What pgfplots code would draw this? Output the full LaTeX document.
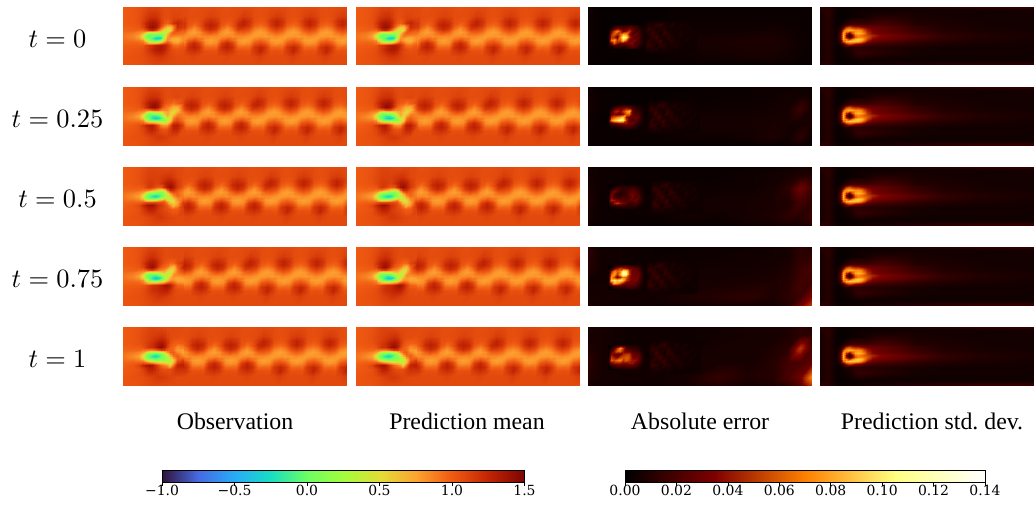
\documentclass[border=0pt]{standalone}
\usepackage[no-math]{fontspec}
\setmainfont{Liberation Serif}
\newfontfamily\dvs{DejaVu Serif}
\usepackage{pgfplots}
\pgfplotsset{compat=1.18}
\pgfplotsset{
 colormap={turbo}{rgb255=(48,18,59) rgb255=(70,107,227) rgb255=(40,171,248) rgb255=(24,222,194) rgb255=(109,254,98) rgb255=(164,252,60) rgb255=(225,221,55) rgb255=(254,163,49) rgb255=(239,89,17) rgb255=(194,36,3) rgb255=(122,4,3)},
 colormap={afm}{rgb255=(0,0,0) rgb255=(128,0,0) rgb255=(255,128,0) rgb255=(255,255,128) rgb255=(255,255,255)},
 panel/.style={scale only axis,anchor=north west,height=58bp,ymin=0,ymax=58,y dir=reverse,hide axis,view={0}{90}},
}
\ExplSyntaxOn
\seq_new:N \l_g_seq
\tl_new:N \l_g_tl
\tl_new:N \l_v_tl
\clist_new:N \l_gx_clist
\clist_new:N \l_gy_clist
\NewDocumentCommand\Surf{O{0} m m m}{
  \exp_args:NNx \seq_set_from_clist:Nn \l_g_seq {#4}
  \clist_set:Nx \l_gx_clist {#2}
  \clist_set:Nx \l_gy_clist {#3}
  \tl_clear:N \l_g_tl
  \clist_map_inline:Nn \l_gy_clist {
    \clist_map_inline:Nn \l_gx_clist {
      \seq_pop_left:NN \l_g_seq \l_v_tl
      \tl_put_right:Nx \l_g_tl {(\fp_eval:n{####1+#1},##1,\fp_eval:n{\l_v_tl})}
    }
  }
  \use:x { \exp_not:N \addplot3 [surf,shader=interp,mesh/cols=\clist_count:N \l_gx_clist,mesh/rows=\clist_count:N \l_gy_clist] coordinates {\l_g_tl}; }
}
\NewDocumentCommand\SurfC{O{0} m m m}{
  \exp_args:NNx \seq_set_from_clist:Nn \l_g_seq {#4}
  \clist_set:Nx \l_gx_clist {#2}
  \clist_set:Nx \l_gy_clist {#3}
  \tl_clear:N \l_g_tl
  \clist_map_inline:Nn \l_gx_clist {
    \clist_map_inline:Nn \l_gy_clist {
      \seq_pop_left:NN \l_g_seq \l_v_tl
      \tl_put_right:Nx \l_g_tl {(\fp_eval:n{##1+#1},####1,\fp_eval:n{\l_v_tl})}
    }
  }
  \use:x { \exp_not:N \addplot3 [surf,shader=interp,mesh/ordering=y~varies,mesh/cols=\clist_count:N \l_gx_clist,mesh/rows=\clist_count:N \l_gy_clist] coordinates {\l_g_tl}; }
}
\ExplSyntaxOff
% ---------- vortex street (observation / prediction): columns across the wake
\def\SX{21,26.5,32,37.5,43,48.5,54,59.5,65,70.5,76,81.5,87,92.5,98,103.5,109,114.5,120,125.5,131,136.5,142,147.5,153,158.5,164,169.5,175,180.5,186,191.5,197,202.5,208,213.5,219,224.5,230}
\def\SY{0,9,14,18,22,25,29,33,36,40,44,49,58}
\def\Lo{1.07,1.11,1.22,1.28,1.22,1.06,.84,.76,.80,.95,1.05,1.08,1.07}
\def\La{1.07,1.09,1.17,1.22,1.14,.98,.84,.80,.84,.96,1.05,1.07,1.07}
\def\Lb{1.06,1.06,1.05,1.03,.92,.82,.82,.96,1.12,1.20,1.15,1.08,1.07}
\def\Lc{1.05,1.06,1.03,.94,.80,.76,.84,1.06,1.24,1.28,1.20,1.10,1.07}
\def\Ro{1.07,1.14,1.26,1.26,1.12,1.0,.84,.76,.80,.96,1.05,1.07,1.07}
\def\Ra{1.07,1.11,1.19,1.17,1.05,.93,.80,.78,.84,.96,1.04,1.07,1.07}
\def\Rb{1.06,1.06,1.05,1.0,.88,.80,.78,.90,1.02,1.16,1.15,1.09,1.07}
\def\Rc{1.05,1.05,1.02,.95,.82,.76,.80,.96,1.08,1.25,1.26,1.13,1.07}
\def\SV{\Lo,\La,\Lb,\Lc,\Lb,\La,\Lo,\La,\Lb,\Lc,\Lb,\La,\Lo,\La,\Lb,\Lc,\Lb,\La,\Ro,\Ra,\Rb,\Rc,\Rb,\Ra,\Ro,\Ra,\Rb,\Rc,\Rb,\Ra,\Ro,\Ra,\Rb,\Rc,\Rb,\Ra,\Ro,\Ra,\Rb}
% ---------- cylinder region, one table per time
\def\HX{0,10,16,20,23,26,29,32,35,38,41,44,47,50,54,60}
\def\HY{0,10,16,20,23,25,27,29,31,33,35,38,42,50,58}
\def\HT{1.00,1.02,1.04,1.06,1.08,1.10,1.10,1.10,1.09,1.08,1.07,1.06,1.07,1.08,1.07,1.07,}
\def\HB{1.02,1.04,1.05,1.06,1.08,1.1,1.12,1.14,1.16,1.16,1.14,1.12,1.1,1.09,1.08,1.07,
1.02,1.03,1.04,1.05,1.06,1.07,1.08,1.08,1.08,1.08,1.08,1.08,1.08,1.08,1.07,1.07}
\def\HVa{\HT
1.00,1.02,1.05,1.10,1.15,1.18,1.20,1.20,1.16,1.10,1.06,1.06,1.08,1.10,1.10,1.08,
1.00,1.02,1.05,1.15,1.25,1.32,1.35,1.33,1.25,1.12,1.02,.98,1.05,1.18,1.25,1.16,
.98,1.0,1.02,1.10,1.25,1.36,1.40,1.36,1.22,1.0,.80,.62,.60,.85,1.20,1.14,
.96,.98,.95,.95,1.05,1.20,1.25,1.15,.95,.72,.50,.40,.50,.90,1.10,1.01,
.94,.92,.85,.8,.6,.45,.50,.50,.45,.40,.35,.50,.80,1.0,.99,.95,
.92,.88,.8,.55,.2,.05,.03,.05,.05,.10,.30,.65,.90,.95,.93,.90,
.92,.86,.75,.4,.06,0,0,-.05,-.1,-.05,.30,.75,.88,.85,.82,.84,
.92,.88,.8,.55,.12,.02,-.1,-.3,-.35,-.2,.45,.80,.80,.72,.72,.83,
.94,.92,.88,.8,.4,.15,.05,-.05,0,.15,.60,.85,.78,.70,.68,.84,
.96,.96,.95,.9,.75,.50,.40,.38,.42,.60,.85,1.0,.90,.78,.75,.90,
.98,1.0,1.0,1.02,1.1,1.15,1.2,1.25,1.3,1.32,1.28,1.2,1.08,.95,.92,1.0,
1.0,1.02,1.04,1.06,1.12,1.18,1.24,1.30,1.33,1.33,1.28,1.18,1.1,1.05,1.03,1.05,
\HB}
\def\HVb{\HT
1.00,1.02,1.05,1.10,1.15,1.18,1.20,1.20,1.18,1.12,1.08,1.06,1.06,1.08,1.09,1.07,
1.00,1.02,1.05,1.15,1.25,1.32,1.36,1.38,1.32,1.18,1.05,1.0,.98,.92,.98,1.08,
.98,1.0,1.02,1.10,1.22,1.34,1.42,1.42,1.32,1.12,.95,.88,.80,.70,.70,1.04,
.96,.98,.95,.92,.88,.90,1.0,1.05,.98,.85,.85,.82,.70,.55,.60,.98,
.94,.92,.85,.8,.55,.25,.30,.40,.45,.50,.65,.75,.60,.50,.72,.89,
.92,.88,.8,.55,.2,0,.02,.08,.12,.25,.55,.75,.55,.60,.85,.87,
.92,.84,.75,.4,.06,-.02,-.15,-.2,-.1,.05,.40,.65,.50,.75,.92,.86,
.92,.86,.8,.55,.12,-.02,-.2,-.35,-.3,-.1,.15,.45,.50,.88,1.0,.88,
.94,.90,.88,.8,.4,.1,.05,0,.05,0.05,.1,.35,.55,.95,1.05,.90,
.96,.96,.97,.92,.78,.65,.6,.58,.5,.4,.4,.45,.75,1.1,1.15,.98,
.98,1.0,1.05,1.15,1.25,1.3,1.32,1.2,1.05,.85,.8,.82,1.05,1.28,1.3,1.09,
1.0,1.02,1.05,1.10,1.18,1.25,1.28,1.22,1.12,1.05,1.02,1.05,1.15,1.25,1.25,1.06,
\HB}
\def\HVc{\HT
1.00,1.02,1.05,1.08,1.10,1.12,1.12,1.12,1.12,1.14,1.16,1.18,1.18,1.14,1.09,1.06,
1.00,1.02,1.04,1.08,1.12,1.15,1.15,1.12,1.12,1.18,1.25,1.32,1.33,1.28,1.15,1.04,
.98,1.0,1.0,1.02,1.10,1.15,1.12,1.05,1.0,1.02,1.2,1.36,1.42,1.32,1.15,1.0,
.96,.96,.95,.9,.88,.85,.75,.65,.50,.40,.55,.95,1.22,1.2,1.05,.90,
.94,.90,.85,.78,.55,.28,.25,.2,.12,.1,.25,.65,.95,1.05,1.0,.85,
.92,.85,.8,.55,.2,.02,0,-.05,-.05,.03,.15,.4,.7,.92,.98,.86,
.92,.83,.75,.4,.06,-.05,-.2,-.3,-.2,.02,.18,.35,.55,.8,.95,.88,
.92,.86,.8,.55,.12,.02,-.02,-.05,.03,.2,.4,.35,.4,.65,.85,.92,
.94,.92,.88,.8,.55,.42,.42,.5,.6,.75,.85,.55,.35,.5,.8,1.0,
.96,.98,.98,1.02,1.05,1.05,1.05,1.05,1.05,1.05,1.02,.85,.55,.5,.72,1.12,
.98,1.02,1.08,1.22,1.32,1.38,1.38,1.3,1.2,1.15,1.08,1.0,.85,.65,.8,1.16,
1.0,1.02,1.05,1.15,1.22,1.28,1.28,1.24,1.16,1.12,1.08,1.06,1.02,.98,1.0,1.12,
\HB}
\def\HVd{\HT
1.0,1.02,1.05,1.10,1.15,1.18,1.20,1.18,1.14,1.10,1.07,1.06,1.06,1.07,1.08,1.08,
1.0,1.02,1.05,1.15,1.25,1.32,1.35,1.30,1.2,1.1,1.03,1.0,.95,.95,1.08,1.2,
.98,1.0,1.02,1.1,1.25,1.36,1.4,1.3,1.12,1.0,.95,.88,.7,.62,.95,1.25,
.96,.98,.95,.92,.98,1.08,1.1,1.0,.9,.85,.8,.62,.48,.55,.9,1.12,
.94,.92,.85,.8,.55,.4,.45,.45,.5,.6,.65,.42,.4,.65,.9,1.03,
.92,.88,.8,.55,.2,.03,.02,.05,.1,.25,.5,.35,.45,.8,.85,.92,
.92,.85,.75,.4,.06,-.02,-.1,-.2,-.1,0,.3,.3,.6,.82,.8,.83,
.92,.87,.8,.55,.12,0,-.2,-.4,-.35,-.1,.2,.42,.72,.78,.72,.76,
.94,.92,.88,.8,.4,.08,0,-.05,.02,.15,.4,.6,.82,.82,.74,.74,
.96,.96,.95,.88,.72,.55,.5,.5,.55,.62,.72,.92,1.0,.95,.82,.79,
.98,1.0,1.0,1.02,1.05,1.12,1.18,1.2,1.22,1.28,1.35,1.38,1.3,1.15,.98,.95,
1.0,1.02,1.04,1.06,1.1,1.15,1.2,1.22,1.24,1.28,1.3,1.3,1.22,1.12,1.05,1.04,
\HB}
\def\HVe{\HT
1.0,1.02,1.05,1.08,1.1,1.12,1.14,1.16,1.18,1.2,1.18,1.12,1.08,1.06,1.06,1.05,
1.0,1.02,1.04,1.08,1.12,1.16,1.2,1.26,1.32,1.35,1.3,1.18,1.05,1.0,.98,1.0,
.98,1.0,1.0,1.04,1.12,1.18,1.2,1.28,1.38,1.42,1.32,1.12,1.0,.95,.82,.88,
.96,.96,.95,.9,.88,.85,.85,.9,1.0,1.1,1.1,1.0,.98,.95,.78,.76,
.94,.9,.85,.78,.55,.3,.25,.22,.25,.35,.55,.8,.98,1.0,.85,.74,
.92,.86,.8,.55,.2,0,-.02,-.1,-.05,.02,.15,.5,.85,.98,.95,.79,
.92,.83,.75,.4,.06,-.05,-.2,-.3,-.2,0,.12,.35,.65,.9,1.0,.86,
.92,.86,.8,.55,.12,.02,-.03,-.1,-.02,.05,.12,.25,.45,.75,.98,.98,
.94,.92,.88,.8,.55,.3,.2,.15,.15,.15,.2,.25,.3,.6,1.0,1.12,
.96,.98,.98,.98,.9,.8,.72,.62,.55,.5,.5,.42,.32,.65,1.1,1.2,
.98,1.02,1.1,1.25,1.33,1.38,1.35,1.22,1.08,.95,.88,.8,.6,.9,1.25,1.28,
1.0,1.02,1.05,1.12,1.2,1.28,1.28,1.22,1.14,1.08,1.05,1.05,1.05,1.12,1.2,1.2,
\HB}
% ---------- absolute error
\def\BX{0,12,40,70,100,130,160,185,200,212,223}
\def\BY{0,8,21,35,50,58}
\def\EBa{.004,.002,.002,.002,.003,.003,.003,.003,.003,.003,.003,
.004,.002,.002,.002,.003,.003,.003,.003,.003,.003,.003,
.004,.002,.002,.003,.004,.004,.004,.005,.004,.003,.003,
.004,.002,.003,.004,.006,.007,.008,.008,.006,.004,.003,
.003,.002,.002,.003,.004,.005,.006,.006,.005,.003,.003,
.002,.002,.002,.002,.002,.002,.002,.003,.003,.003,.003}
\def\EBb{.004,.002,.002,.002,.002,.003,.003,.004,.004,.004,.004,
.005,.003,.002,.002,.003,.003,.003,.004,.005,.005,.004,
.006,.003,.002,.003,.003,.004,.004,.005,.006,.016,.006,
.004,.002,.003,.004,.006,.006,.006,.007,.006,.006,.006,
.003,.003,.003,.003,.004,.004,.005,.008,.005,.012,.004,
.003,.002,.002,.002,.002,.002,.002,.003,.003,.005,.004}
\def\EBc{.004,.004,.003,.003,.003,.003,.003,.004,.005,.006,.006,
.005,.004,.003,.003,.003,.003,.004,.005,.006,.008,.008,
.006,.004,.003,.003,.003,.004,.004,.006,.012,.03,.018,
.008,.003,.003,.004,.005,.006,.006,.007,.008,.018,.012,
.006,.004,.003,.003,.005,.004,.006,.008,.012,.01,.016,
.004,.003,.003,.002,.003,.003,.004,.005,.006,.008,.01}
\def\EBd{.01,.004,.004,.003,.003,.004,.004,.005,.006,.012,.01,
.012,.005,.004,.003,.004,.004,.005,.005,.006,.012,.012,
.01,.005,.004,.004,.005,.005,.005,.006,.008,.015,.018,
.005,.005,.004,.005,.006,.006,.007,.008,.01,.018,.016,
.006,.006,.005,.005,.008,.01,.012,.008,.012,.016,.035,
.006,.005,.005,.004,.005,.006,.006,.006,.01,.03,.05}
\def\EBe{.006,.006,.004,.004,.004,.005,.006,.006,.008,.012,.01,
.006,.006,.004,.004,.004,.005,.006,.006,.008,.012,.012,
.008,.006,.004,.004,.004,.006,.006,.008,.012,.05,.02,
.012,.006,.004,.005,.006,.006,.006,.01,.018,.02,.025,
.01,.006,.005,.005,.006,.014,.008,.01,.02,.03,.07,
.006,.005,.004,.004,.006,.01,.006,.008,.012,.025,.05}
\def\MX{56,60,64,68,72,76,80,84,88,92,96,100,104,108}
\def\MY{14,18,22,26,30,34,38,42,46}
\def\MV{.004,.004,.004,.005,.005,.006,.005,.004,.004,.004,.004,.004,.004,.004,
.004,.009,.006,.012,.014,.006,.005,.009,.004,.006,.005,.004,.004,.004,
.004,.014,.012,.006,.008,.012,.006,.005,.007,.005,.004,.006,.004,.004,
.004,.008,.016,.01,.005,.014,.01,.005,.004,.008,.006,.004,.005,.004,
.004,.006,.012,.017,.008,.006,.012,.009,.005,.006,.004,.006,.004,.004,
.004,.013,.007,.01,.016,.006,.007,.01,.007,.004,.006,.005,.004,.004,
.004,.015,.012,.005,.012,.01,.005,.006,.008,.006,.004,.004,.005,.004,
.004,.007,.009,.008,.005,.007,.006,.004,.005,.004,.004,.004,.004,.004,
.004,.004,.004,.004,.004,.004,.004,.004,.004,.004,.004,.004,.004,.004}
\def\EX{20,23,26,29,32,35,38,41,44,47,50,53,56}
\def\EY{18,21,24,27,30,33,36,39,42}
\def\EVa{.002,.002,.004,.008,.01,.01,.01,.012,.012,.01,.006,.004,.004,
.002,.006,.02,.03,.025,.02,.025,.03,.025,.02,.012,.006,.004,
.002,.03,.055,.07,.05,.03,.04,.05,.03,.015,.02,.01,.004,
.002,.045,.06,.045,.06,.08,.075,.04,.02,.03,.02,.012,.004,
.002,.05,.045,.03,.07,.11,.10,.05,.03,.02,.025,.01,.004,
.002,.065,.08,.05,.06,.09,.06,.03,.03,.03,.02,.012,.004,
.002,.03,.06,.04,.03,.03,.03,.035,.035,.02,.02,.01,.004,
.002,.006,.012,.012,.015,.012,.015,.02,.025,.02,.012,.006,.004,
.002,.002,.003,.005,.005,.005,.006,.008,.01,.008,.005,.004,.004}
\def\EVb{.002,.002,.004,.006,.01,.012,.012,.01,.008,.006,.005,.004,.004,
.002,.008,.02,.03,.03,.035,.04,.035,.02,.012,.01,.006,.004,
.002,.02,.04,.045,.035,.05,.07,.085,.03,.015,.015,.008,.004,
.002,.025,.035,.03,.03,.04,.06,.06,.03,.02,.02,.01,.004,
.002,.05,.06,.07,.08,.09,.04,.03,.025,.03,.025,.01,.004,
.002,.07,.09,.10,.11,.10,.05,.025,.02,.025,.02,.01,.004,
.002,.02,.03,.035,.04,.04,.04,.03,.03,.02,.012,.006,.004,
.002,.004,.008,.012,.012,.015,.02,.02,.015,.012,.006,.004,.004,
.002,.002,.002,.004,.005,.006,.008,.008,.006,.004,.004,.004,.004}
\def\EVc{.002,.002,.002,.004,.006,.006,.006,.006,.006,.006,.005,.004,.004,
.002,.004,.012,.02,.015,.015,.015,.015,.018,.015,.01,.005,.004,
.002,.02,.03,.02,.012,.012,.015,.02,.025,.02,.015,.008,.004,
.002,.03,.02,.01,.01,.012,.015,.025,.03,.025,.02,.01,.004,
.002,.035,.02,.015,.015,.02,.015,.02,.03,.02,.025,.012,.004,
.002,.045,.04,.03,.025,.02,.02,.025,.025,.03,.02,.012,.004,
.002,.02,.04,.05,.04,.03,.025,.015,.015,.02,.015,.008,.004,
.002,.004,.01,.012,.014,.012,.012,.012,.012,.012,.006,.004,.004,
.002,.002,.002,.003,.004,.005,.005,.005,.005,.004,.004,.004,.004}
\def\EVd{.002,.002,.004,.008,.012,.015,.015,.012,.012,.01,.008,.004,.004,
.002,.008,.025,.04,.05,.045,.04,.03,.03,.025,.02,.008,.004,
.002,.04,.07,.06,.07,.11,.10,.05,.025,.03,.025,.012,.004,
.002,.06,.08,.05,.08,.125,.11,.05,.03,.03,.03,.015,.004,
.002,.075,.055,.03,.045,.07,.06,.04,.03,.03,.03,.015,.004,
.002,.09,.10,.09,.10,.085,.05,.04,.03,.035,.025,.012,.004,
.002,.045,.085,.075,.06,.04,.03,.03,.03,.025,.02,.01,.004,
.002,.006,.015,.02,.02,.018,.02,.02,.02,.02,.012,.006,.004,
.002,.002,.003,.005,.006,.006,.008,.01,.01,.008,.005,.004,.004}
\def\EVe{.002,.002,.004,.008,.012,.01,.008,.008,.008,.008,.006,.004,.004,
.002,.008,.025,.05,.075,.05,.02,.015,.015,.012,.01,.005,.004,
.002,.02,.04,.06,.06,.04,.03,.03,.02,.02,.015,.008,.004,
.002,.035,.03,.025,.03,.045,.05,.05,.03,.025,.025,.012,.004,
.002,.05,.04,.035,.05,.055,.06,.055,.035,.03,.03,.015,.004,
.002,.06,.055,.065,.07,.05,.06,.05,.04,.04,.03,.015,.004,
.002,.03,.04,.04,.04,.035,.035,.04,.04,.03,.02,.01,.004,
.002,.006,.015,.02,.02,.018,.02,.02,.02,.018,.012,.006,.004,
.002,.002,.003,.005,.006,.006,.008,.008,.008,.006,.005,.004,.004}
% ---------- prediction std. dev.
\def\DX{0,8,16,20,23,26,29,32,35,38,41,44,47,52,60,75,95,120,160,223}
\def\DY{0,3,10,17,20,23,26,28,30,32,34,37,40,46,53,58}
\def\DV{.012,.01,.004,.003,.003,.003,.003,.004,.004,.004,.004,.005,.005,.006,.006,.007,.008,.01,.012,.014,
.008,.012,.004,.002,.002,.002,.002,.003,.003,.003,.004,.004,.004,.004,.004,.004,.005,.005,.005,.006,
.006,.011,.003,.002,.002,.003,.003,.004,.004,.004,.005,.005,.006,.008,.01,.01,.007,.006,.005,.005,
.006,.01,.003,.003,.006,.012,.015,.018,.018,.018,.018,.017,.017,.018,.02,.016,.01,.008,.006,.005,
.006,.01,.004,.006,.025,.05,.058,.05,.045,.045,.04,.035,.032,.028,.026,.022,.014,.009,.006,.005,
.006,.01,.004,.012,.055,.08,.085,.08,.075,.075,.07,.055,.042,.034,.028,.022,.016,.01,.007,.005,
.006,.01,.004,.02,.08,.05,.03,.055,.08,.085,.08,.068,.05,.036,.03,.026,.018,.012,.008,.006,
.006,.01,.004,.022,.085,.035,.012,.035,.065,.072,.066,.06,.055,.045,.036,.03,.022,.014,.009,.006,
.006,.01,.004,.022,.085,.04,.015,.035,.06,.07,.07,.065,.058,.042,.034,.028,.022,.014,.009,.006,
.006,.01,.004,.02,.08,.07,.05,.07,.085,.092,.088,.07,.052,.036,.03,.026,.018,.012,.008,.006,
.006,.01,.004,.012,.06,.085,.09,.09,.088,.085,.075,.058,.04,.03,.024,.02,.015,.01,.007,.005,
.006,.01,.004,.005,.018,.04,.05,.045,.036,.034,.03,.025,.02,.018,.016,.014,.011,.008,.006,.005,
.006,.01,.003,.003,.005,.008,.009,.011,.012,.012,.012,.011,.01,.01,.01,.008,.006,.005,.005,.005,
.006,.01,.003,.003,.004,.005,.006,.008,.012,.014,.014,.014,.013,.012,.01,.008,.006,.005,.005,.005,
.006,.01,.003,.002,.002,.002,.003,.003,.003,.003,.004,.004,.004,.004,.004,.004,.004,.004,.004,.004,
.012,.012,.006,.004,.004,.004,.004,.005,.005,.005,.006,.006,.006,.007,.008,.009,.01,.012,.014,.016}
% ---------- panel macros: left, top, shift, table
\newcommand\Field[4]{\begin{axis}[panel,at={(#1bp,-#2bp)},width=223bp,xmin=0,xmax=223,colormap name=turbo,point meta min=-1,point meta max=1.5]
\SurfC[#3]{\SX}{\SY}{\SV}
\Surf{\HX}{\HY}{#4}
\end{axis}}
\newcommand\Err[4]{\begin{axis}[panel,at={(588bp,-#1bp)},width=223bp,xmin=0,xmax=223,colormap name=afm,point meta min=0,point meta max=0.14]
\Surf{\BX}{\BY}{#2}
\Surf[#4]{\MX}{\MY}{\MV}
\Surf{\EX}{\EY}{#3}
\end{axis}}
\newcommand\Std[1]{\begin{axis}[panel,at={(820bp,-#1bp)},width=214bp,xmin=0,xmax=214,colormap name=afm,point meta min=0,point meta max=0.14]
\Surf{\DX}{\DY}{\DV}
\end{axis}}
\begin{document}
\begin{tikzpicture}
\path[use as bounding box] (0,0) rectangle (1034bp,-506bp);
\Field{123}{7}{0}{\HVa}\Field{356}{7}{0}{\HVa}\Err{7}{\EBa}{\EVa}{0}\Std{7}
\Field{123}{87}{14}{\HVb}\Field{356}{87}{14}{\HVb}\Err{87}{\EBb}{\EVb}{3}\Std{87}
\Field{123}{167}{27}{\HVc}\Field{356}{167}{27}{\HVc}\Err{167}{\EBc}{\EVc}{6}\Std{167}
\Field{123}{247}{7}{\HVd}\Field{356}{247}{7}{\HVd}\Err{247}{\EBd}{\EVd}{1}\Std{247}
\Field{123}{327}{20}{\HVe}\Field{356}{327}{20}{\HVe}\Err{327}{\EBe}{\EVe}{4}\Std{327}
\foreach \y/\t in {47/0,127/0.25,207/0.5,287/0.75,367/1}
  \node[anchor=base,scale=2.65,inner sep=0pt] at (57.5bp,-\y bp) {$t=\t$};
\foreach \x/\t in {235/Observation,467/Prediction mean,700/Absolute error,932/Prediction std.\ dev.}
  \node[anchor=base,inner sep=0pt,font=\fontsize{23.9}{28}\selectfont] at (\x bp,-429bp) {\t};
\begin{axis}[scale only axis,anchor=north west,at={(162bp,-470bp)},width=362.5bp,height=12bp,view={0}{90},colormap name=turbo,point meta min=-1,point meta max=1.5,
 xmin=-1,xmax=1.5,ymin=0,ymax=1,ytick=\empty,xtick={-1,-0.5,0,0.5,1,1.5},xticklabels={−1.0,−0.5,0.0,0.5,1.0,1.5},xtick pos=lower,tick align=outside,
 major tick length=3.5bp,tick style={black,line width=0.6pt},axis line style={line width=0.6pt},
 x tick label style={font=\fontsize{14}{16}\dvs,yshift=1.5bp,inner sep=1pt}]
\Surf{-1,1.5}{0,1}{-1,1.5,-1,1.5}
\end{axis}
\begin{axis}[scale only axis,anchor=north west,at={(625bp,-470bp)},width=360bp,height=12bp,view={0}{90},colormap name=afm,point meta min=0,point meta max=0.14,
 xmin=0,xmax=0.14,ymin=0,ymax=1,ytick=\empty,xtick={0,0.02,0.04,0.06,0.08,0.1,0.12,0.14},xticklabels={0.00,0.02,0.04,0.06,0.08,0.10,0.12,0.14},xtick pos=lower,tick align=outside,
 major tick length=3.5bp,tick style={black,line width=0.6pt},axis line style={line width=0.6pt},
 x tick label style={font=\fontsize{14}{16}\dvs,yshift=1.5bp,inner sep=1pt},scaled x ticks=false]
\Surf{0,0.14}{0,1}{0,0.14,0,0.14}
\end{axis}
\end{tikzpicture}
\end{document}
